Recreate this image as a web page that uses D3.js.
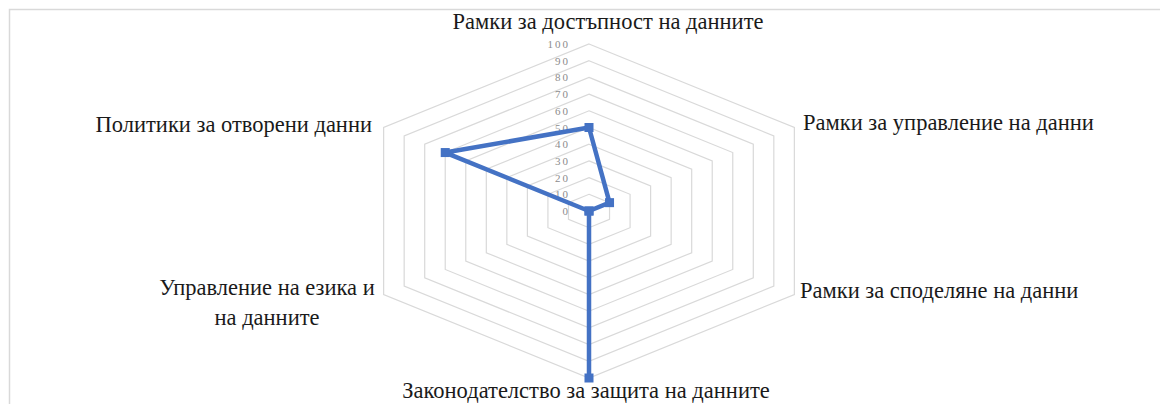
<!DOCTYPE html>
<html>
<head>
<meta charset="utf-8">
<script src="https://cdn.jsdelivr.net/npm/d3@7/dist/d3.min.js"></script>
<style>
  html, body { margin: 0; padding: 0; background: #fff; }
  svg { display: block; }
</style>
</head>
<body>
<svg id="chart" width="1160" height="404"></svg>
<script>
// Axis categories, clockwise from the top
const categories = [
  "Рамки за достъпност на данните",
  "Рамки за управление на данни",
  "Рамки за споделяне на данни",
  "Законодателство за защита на данните",
  "Управление на езика и на данните",
  "Политики за отворени данни"
];
// Score per category (0–100)
const values = [50, 10, 0, 100, 0, 70];
// Radial tick labels
const ticks = [0, 10, 20, 30, 40, 50, 60, 70, 80, 90, 100];

const svg = d3.select("#chart");
const W = 1160, H = 404;
const cx = 589, cy = 211;
const stretchX = 1.42; // plot area is wider than tall

const r = d3.scaleLinear().domain([0, 100]).range([0, 167]);
const angle = d3.scaleLinear().domain([0, categories.length]).range([0, 2 * Math.PI]);

const px = (i, v) => cx + stretchX * r(v) * Math.sin(angle(i));
const py = (i, v) => cy - r(v) * Math.cos(angle(i));

// chart frame
svg.append("path")
  .attr("d", `M9.5,${H} L9.5,9.5 L${W},9.5`)
  .attr("fill", "none")
  .attr("stroke", "#d9d9d9")
  .attr("stroke-width", 1.5);

// hexagonal grid rings
const ring = d3.line().curve(d3.curveLinearClosed);
svg.append("g").selectAll("path")
  .data(ticks.filter(t => t > 0))
  .join("path")
  .attr("d", t => ring(categories.map((c, i) => [px(i, t), py(i, t)])))
  .attr("fill", "none")
  .attr("stroke", "#d9d9d9")
  .attr("stroke-width", 1.2);

// tick labels along the top axis
svg.append("g").selectAll("text")
  .data(ticks)
  .join("text")
  .attr("x", 570)
  .attr("y", t => cy - r(t) + 4)
  .attr("text-anchor", "end")
  .attr("font-family", "Liberation Serif, Times New Roman, serif")
  .attr("font-size", 11)
  .attr("letter-spacing", 2)
  .attr("fill", "#8c8c8c")
  .text(d => d);

// data series
const pts = values.map((v, i) => [px(i, v), py(i, v)]);
svg.append("path")
  .attr("d", ring(pts))
  .attr("fill", "none")
  .attr("stroke", "#4472c4")
  .attr("stroke-width", 4.5)
  .attr("stroke-linejoin", "round");

svg.append("g").selectAll("rect")
  .data(pts)
  .join("rect")
  .attr("x", d => d[0] - 4.5)
  .attr("y", d => d[1] - 4.5)
  .attr("width", 9)
  .attr("height", 9)
  .attr("fill", "#4472c4");

// category labels
const labelFont = "Liberation Serif, Times New Roman, serif";
const labelPos = [
  { x: 608, y: 29, anchor: "middle", lines: ["Рамки за достъпност на данните"] },
  { x: 803, y: 130, anchor: "start", lines: ["Рамки за управление на данни"] },
  { x: 800, y: 298, anchor: "start", lines: ["Рамки за споделяне на данни"] },
  { x: 586, y: 398, anchor: "middle", lines: ["Законодателство за защита на данните"] },
  { x: 267, y: 295, anchor: "middle", lines: ["Управление на езика и", "на данните"] },
  { x: 372, y: 132, anchor: "end", lines: ["Политики за отворени данни"] }
];

const lab = svg.append("g").selectAll("text")
  .data(labelPos)
  .join("text")
  .attr("x", d => d.x)
  .attr("y", d => d.y)
  .attr("text-anchor", d => d.anchor)
  .attr("font-family", labelFont)
  .attr("font-size", 22.5)
  .attr("fill", "#1a1a1a");

lab.selectAll("tspan")
  .data(d => d.lines.map((l, k) => ({ l, k, x: d.x })))
  .join("tspan")
  .attr("x", d => d.x)
  .attr("dy", d => d.k === 0 ? 0 : 30)
  .text(d => d.l);
</script>
</body>
</html>
